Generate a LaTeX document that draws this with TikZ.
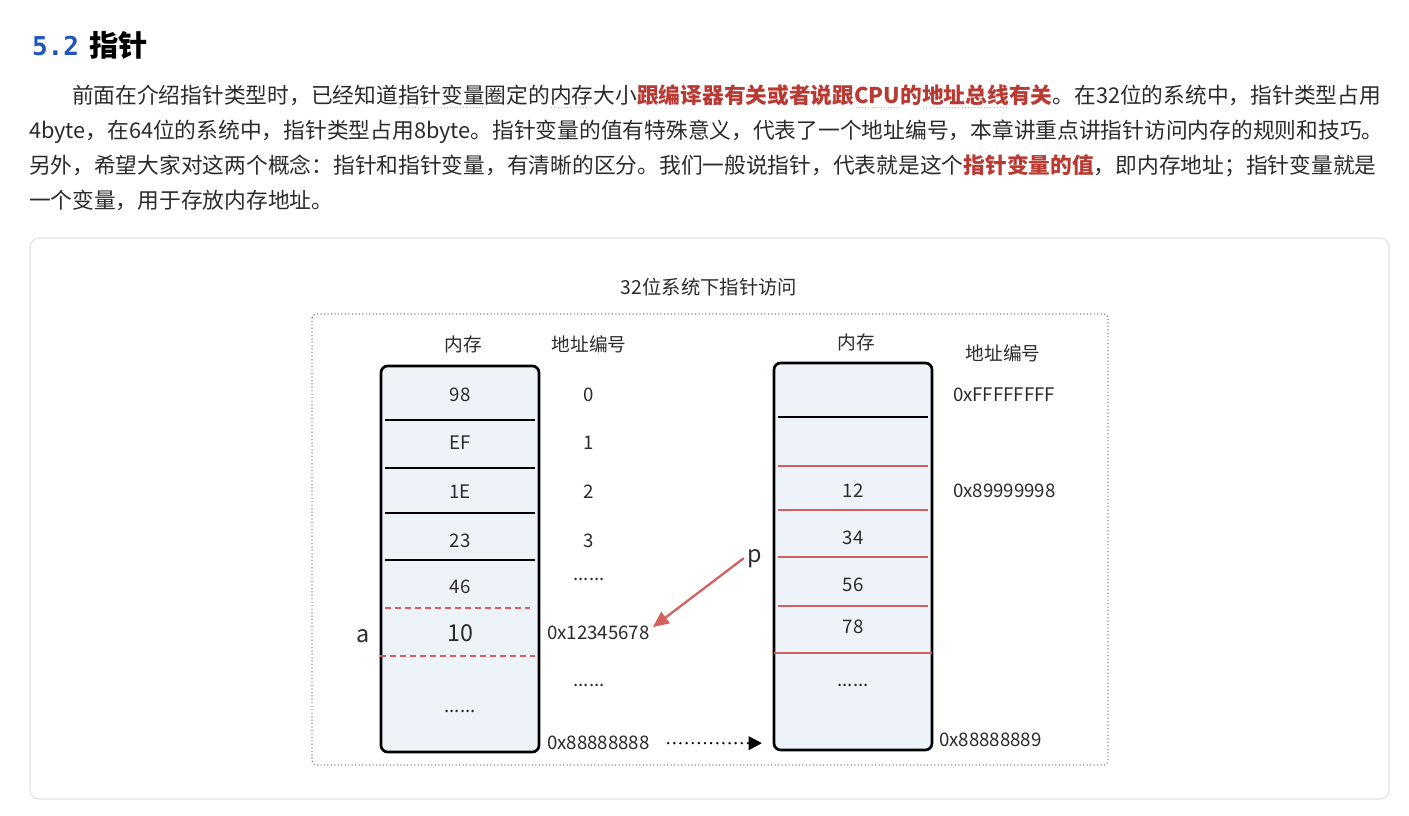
\documentclass[tikz,border=0pt]{standalone}
\usepackage{fontspec}
\setmainfont{Noto Sans CJK SC}
\newfontfamily\headmono{DejaVu Sans Mono}
\usetikzlibrary{arrows.meta}
\definecolor{txt}{HTML}{2B2B2B}
\definecolor{hred}{HTML}{B83A32}
\definecolor{hblue}{HTML}{1F57B8}
\definecolor{cardline}{HTML}{E3E3E3}
\definecolor{memfill}{HTML}{EEF3FA}
\definecolor{rline}{HTML}{D35F5F}
\definecolor{framegray}{HTML}{707070}
\newsavebox\dulbox
\newcommand\dul[2]{\sbox\dulbox{\textcolor{#1}{#2}}\rlap{\color{gray!50}\raisebox{-3.2pt}{\hbox to \wd\dulbox{\leaders\hbox to 2.4pt{\hss\rule{0.7pt}{0.7pt}\hss}\hfill}}}\usebox\dulbox}
\begin{document}
\begin{tikzpicture}[x=0.75pt,y=-0.75pt,
  every node/.style={inner sep=0pt, outer sep=0pt, text=txt},
  para/.style={anchor=base west, font=\fontsize{16.3}{20}\selectfont},
  lbl/.style={anchor=base, yshift=-5.1pt, font=\fontsize{14}{16}\selectfont},
  lblw/.style={anchor=base west, yshift=-5.1pt, font=\fontsize{14}{16}\selectfont},
  dots/.style={anchor=base, font=\fontsize{14}{16}\selectfont},
  big/.style={anchor=base, font=\fontsize{17.5}{20}\selectfont},
  titlelbl/.style={anchor=base, yshift=-5.5pt, font=\fontsize{14.5}{18}\selectfont},
  membox/.style={draw=black, line width=2pt, fill=memfill, rounded corners=5pt, minimum width=158*0.75pt},
  blackrow/.style={draw=black, line width=1.9pt},
  redrow/.style={draw=rline, line width=1.9pt},
  reddash/.style={draw=rline, line width=1.7pt, dash pattern=on 4.5pt off 3pt},
  redarrow/.style={draw=rline, line width=1.7pt, -{Triangle[length=12pt,width=10.5pt]}},
  dotarrow/.style={draw=black, line width=2pt, line cap=round, dash pattern=on 0pt off 4.6pt, -{Triangle[length=10pt,width=10pt]}},
  framebox/.style={draw=framegray, line width=1.1pt, line cap=round, dash pattern=on 0pt off 2.6pt, rounded corners=3pt}
]
\useasboundingbox[fill=white] (0,0) rectangle (1409,816);

% heading
\node[anchor=base west, font=\headmono\bfseries\fontsize{19.5}{22}\selectfont, text=hblue] (num) at (32,56) {5.2};
\node[anchor=base west, font=\bfseries\fontsize{22}{24}\selectfont, text=black] (head) at (89,57) {指针};

% paragraph
\node[para] (l1) at (72,104) {前面在介绍指针类型时，已经知道\dul{txt}{指针变量}圈定的\dul{txt}{内存}大小\textbf{\color{hred}跟编译器有关或者说跟\dul{hred}{CPU}的\dul{hred}{地址总线}有关}。在32位的系统中，指针类型占用};
\node[para] (l2) at (29,139) {4byte，在64位的系统中，指针类型占用8byte。指针变量的值有特殊意义，代表了一个地址编号，本章讲重点讲指针访问内存的规则和技巧。};
\node[para] (l3) at (29,174) {另外，希望大家对这两个概念：指针和指针变量，有清晰的区分。我们一般说指针，代表就是这个\textbf{\color{hred}指针变量的值}，即内存地址；指针变量就是};
\node[para] (l4) at (29,209) {一个变量，用于存放内存地址。};

% card
\draw[draw=cardline, line width=0.9pt, rounded corners=7pt, fill=white] (30,238) rectangle (1389,799);

\node[titlelbl] (title) at (709,287) {32位系统下指针访问};
\draw[framebox] (312,314) rectangle (1108,765);

% left memory
\node[lbl] (lhm) at (463,345) {内存};
\node[lbl] (lha) at (589,345) {地址编号};
\node[membox, minimum height=386*0.75pt] (lmem) at (460,559) {};
\foreach \yy in {420,468,513,560} \draw[blackrow] (385,\yy) -- (535,\yy);
\draw[reddash] (385,608) -- (530,608);
\draw[reddash] (380,656) -- (535,656);
\node[lbl] (c98) at (460,395) {98};
\node[lbl] (cEF) at (460,443) {EF};
\node[lbl] (c1E) at (460,492) {1E};
\node[lbl] (c23) at (460,541) {23};
\node[lbl] (c46) at (460,587) {46};
\node[big, yshift=-6.3pt] (c10) at (460,633) {10};
\node[dots] (cdots) at (460,712) {......};
\node[big] (a) at (363,642) {a};

\node[lbl] (ad0) at (589,395) {0};
\node[lbl] (ad1) at (589,443) {1};
\node[lbl] (ad2) at (589,492) {2};
\node[lbl] (ad3) at (589,541) {3};
\node[dots] (addots1) at (589,580) {......};
\node[lblw] (a12) at (547,633) {0x12345678};
\node[dots] (addots2) at (589,686) {......};
\node[lblw] (a88) at (547,743) {0x88888888};

% right memory
\node[lbl] (rhm) at (856,343) {内存};
\node[lbl] (rha) at (1003,354) {地址编号};
\node[membox, minimum height=387*0.75pt] (rmem) at (853,556.5) {};
\draw[blackrow] (778,417) -- (928,417);
\foreach \yy in {466,510,557,606} \draw[redrow] (778,\yy) -- (928,\yy);
\draw[redrow] (774,653) -- (932,653);
\node[lbl] (c12) at (853,491) {12};
\node[lbl] (c34) at (853,538) {34};
\node[lbl] (c56) at (853,585) {56};
\node[lbl] (c78) at (853,627) {78};
\node[dots] (rdots) at (853,686) {......};
\node[lblw] (aFF) at (953,395) {0xFFFFFFFF};
\node[lblw] (a89) at (953,491) {0x89999998};
\node[lblw] (a889) at (939,740) {0x88888889};

% pointer
\node[big] (p) at (755,562) {p};
\draw[redarrow] ([xshift=-3pt]p.west) -- ([xshift=2.5pt,yshift=4.5pt]a12.east);
\draw[dotarrow] ([xshift=14pt]a88.east) -- ([xshift=-9pt]rmem.west |- a88.east);
\end{tikzpicture}
\end{document}
